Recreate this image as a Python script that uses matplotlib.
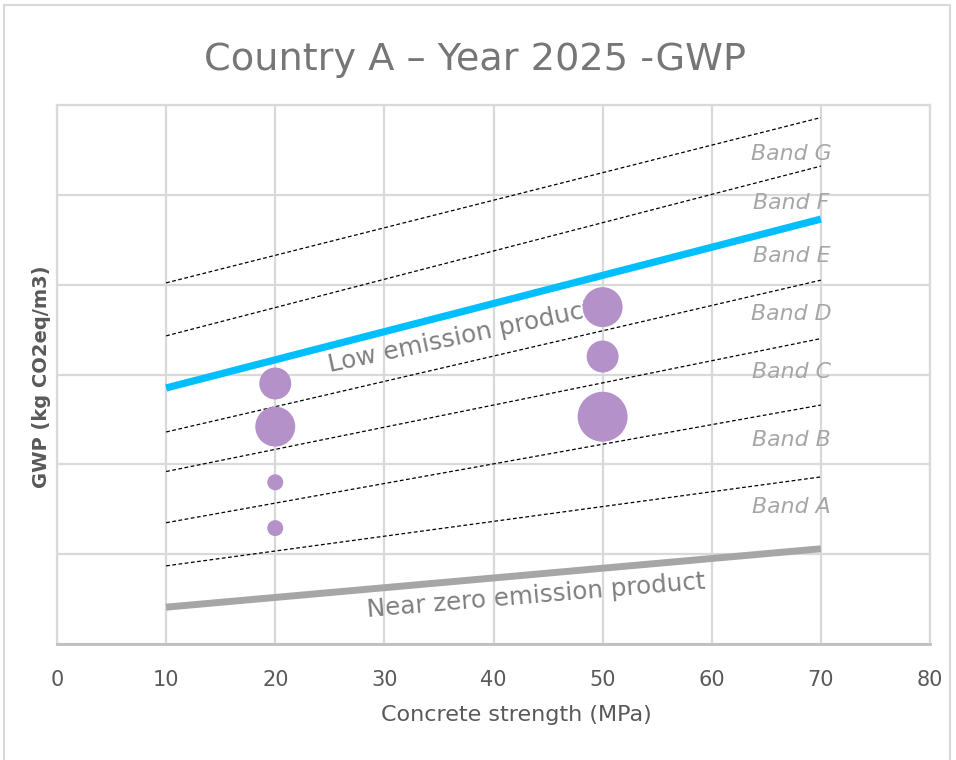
import matplotlib
matplotlib.use('Agg')
import matplotlib.pyplot as plt
from matplotlib.patches import Rectangle
import numpy as np

# Strength range covered by the band lines (MPa)
x_ends = [10, 70]

# Band boundaries (dashed), GWP at 10 and 70 MPa, lowest first
band_start = [0.87, 1.35, 1.92, 2.36, 3.43, 4.02]
band_end = [1.86, 2.66, 3.40, 4.05, 5.32, 5.86]

# Limit lines
low_emission = [2.85, 4.73]
near_zero = [0.41, 1.06]

# Band label positions
band_names = ['Band A', 'Band B', 'Band C', 'Band D', 'Band E', 'Band F', 'Band G']
band_label_y = [1.53, 2.27, 3.03, 3.67, 4.32, 4.91, 5.45]

# Products (bubbles)
prod_x = [20, 20, 20, 20, 50, 50, 50]
prod_y = [2.90, 2.42, 1.80, 1.29, 3.75, 3.20, 2.53]
prod_size = [2.56, 4.0, 0.64, 0.64, 4.0, 2.56, 6.25]

xticks = [0, 10, 20, 30, 40, 50, 60, 70, 80]

fig = plt.figure(figsize=(9.56, 7.60), dpi=100)
ax = fig.add_axes([57 / 956, 1 - 644 / 760, 873 / 956, 539 / 760])

grid_c = '#d9d9d9'
ax.set_xlim(0, 80)
ax.set_ylim(0, 6)
ax.set_xticks(xticks)
ax.set_xticklabels([str(v) for v in xticks])
ax.set_yticks(range(0, 7))
ax.set_yticklabels([])
ax.grid(True, color=grid_c, lw=1.6, zorder=0)
ax.set_axisbelow(True)
for side in ['top', 'left', 'right']:
    ax.spines[side].set_color(grid_c)
    ax.spines[side].set_linewidth(1.6)
ax.spines['bottom'].set_color('#bfbfbf')
ax.spines['bottom'].set_linewidth(2)
ax.tick_params(length=0, pad=19, labelsize=15, labelcolor='#595959')

# dashed band boundaries
for y0, y1 in zip(band_start, band_end):
    ax.plot(x_ends, [y0, y1], color='black', lw=0.9, dashes=(3, 2), zorder=2)

ax.plot(x_ends, low_emission, color='#00bfff', lw=5.2, solid_capstyle='butt', zorder=2)
ax.plot(x_ends, near_zero, color='#a6a6a6', lw=5.0, solid_capstyle='butt', zorder=2)

ax.text(25.0, 3.03, 'Low emission product', rotation=12, rotation_mode='anchor',
        ha='left', va='baseline', fontsize=17.8, color='#7f7f7f', zorder=3)
ax.text(28.5, 0.30, 'Near zero emission product', rotation=4.8, rotation_mode='anchor',
        ha='left', va='baseline', fontsize=17.7, color='#7f7f7f', zorder=3)

for name, y in zip(band_names, band_label_y):
    ax.text(67.3, y, name, ha='center', va='center', fontsize=15.8,
            style='italic', color='#a6a6a6', zorder=3)

ax.scatter(prod_x, prod_y, s=np.array(prod_size) * 207, color='#b591c9',
           edgecolors='none', zorder=4)

fig.text(475 / 956, 1 - 70 / 760, 'Country A \u2013 Year 2025 -GWP', ha='center',
         va='baseline', fontsize=27.5, color='#767676')
fig.text(516 / 956, 1 - 721 / 760, 'Concrete strength (MPa)', ha='center',
         va='baseline', fontsize=16, color='#595959')
fig.text(42 / 956, 1 - 377 / 760, 'GWP (kg CO2eq/m3)', rotation=90, ha='center',
         va='center', fontsize=14, fontweight='bold', color='#595959')

# chart frame
fig.patches.append(Rectangle((4 / 956, -0.02), 946 / 956, 1.02 - 5 / 760,
                             transform=fig.transFigure, fill=False,
                             edgecolor=grid_c, lw=1.5))

fig.savefig('out.png', dpi=100)
